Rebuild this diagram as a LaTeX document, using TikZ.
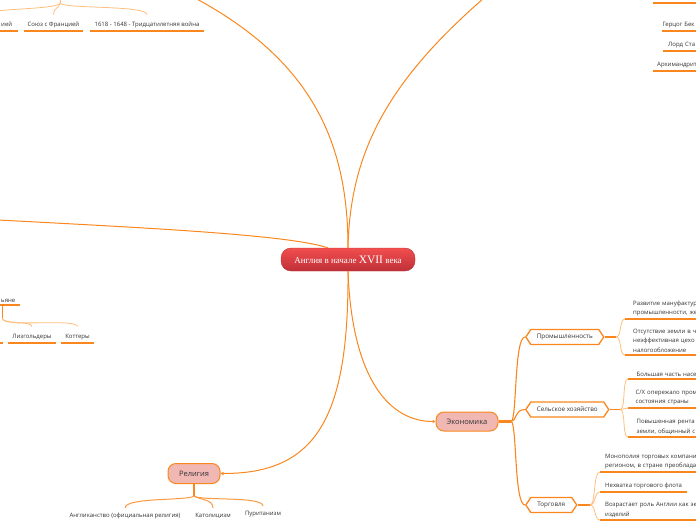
\documentclass[tikz,border=0pt]{standalone}
\usepackage{fontspec}
\setmainfont{Open Sans}
\newfontfamily\titlefont{Liberation Serif}
\usetikzlibrary{shapes.symbols,arrows.meta}
\definecolor{orn}{RGB}{250,135,30}
\definecolor{lorn}{RGB}{255,190,125}
\definecolor{pinkf}{RGB}{241,183,178}
\definecolor{txt}{RGB}{51,51,51}
\definecolor{redtop}{RGB}{242,78,78}
\definecolor{redbot}{RGB}{190,48,56}
\begin{document}
\begin{tikzpicture}[x=1pt,y=-1pt,
  conn/.style={draw=orn,line width=1pt},
  thickconn/.style={draw=orn,line width=2.4pt},
  midconn/.style={draw=orn,line width=1.1pt},
  thinconn/.style={draw=lorn,line width=0.8pt},
  uline/.style={draw=orn,line width=1.6pt},
  leaf/.style={font=\fontsize{6}{9.5}\selectfont,text=txt,align=left,inner ysep=2.5pt},
  tallleaf/.style={leaf,text height=9pt,text depth=2pt,inner xsep=4pt,inner ysep=2.5pt},
  central/.style={rounded corners=10pt,minimum width=134pt,minimum height=23pt,
    top color=redtop,bottom color=redbot,draw=redbot,line width=0.4pt,
    text=white,font=\titlefont\fontsize{9}{10}\selectfont,inner sep=0pt},
  topic/.style={draw=orn,fill=pinkf,line width=1pt,rounded corners=8pt,
    minimum width=62pt,minimum height=19pt,inner sep=0pt,
    font=\fontsize{7.5}{9}\selectfont,text=txt},
  hexa/.style={shape=signal,signal to=west and east,signal pointer angle=112,
    draw=orn,line width=1.3pt,fill=white,minimum height=15pt,inner xsep=2pt,inner ysep=0pt,
    font=\fontsize{6.3}{8}\selectfont,text=txt},
  tip/.style={-{Triangle[length=3pt,width=3pt]}}
]
\useasboundingbox (0,0) rectangle (696,520);
\clip (0,0) rectangle (696,520);

% central node
\node[central] (c) at (348,259.5) {Англия в начале {\fontsize{11.5}{12}\selectfont XVII} века};

% off-canvas ends of main branches
\coordinate (ul) at (195,-2);
\coordinate (ur) at (484,-2);
\coordinate (lf) at (-2,220);

\draw[conn] (c.north) .. controls (348,140) and (310,60) .. (ul);
\draw[conn] (c.north) .. controls (350,150) and (390,80) .. (ur);
\draw[conn] (c.150) .. controls (290,235) and (150,228) .. (lf);

% topics
\node[topic] (ek) at (467,421.5) {Экономика};
\node[topic,minimum width=52pt,minimum height=20pt] (rel) at (194,473.5) {Религия};
\draw[conn,tip] (c.south) .. controls (352,380) and (390,421.5) .. (ek.west);
\draw[conn,tip] (c.south) .. controls (349,420) and (315,473.5) .. (rel.east);

% economy sub-topics
\node[hexa,minimum width=78pt,anchor=west] (pr) at (525,337) {Промышленность};
\node[hexa,minimum width=83pt,anchor=west] (sx) at (525,409.5) {Сельское хозяйство};
\node[hexa,minimum width=51pt,anchor=west] (tg) at (525,505) {Торговля};
\coordinate (ej) at (511,421.5);
\draw[thickconn] (ek.east) -- (ej);
\draw[midconn] (ej) .. controls (517,421.5) and (514,337) .. (pr.west);
\draw[midconn] (ej) .. controls (517,421.5) and (514,409.5) .. (sx.west);
\draw[midconn] (ej) .. controls (517,421.5) and (514,505) .. (tg.west);

% industry leaves
\node[leaf,anchor=south west,inner xsep=8pt,text width=80pt] (p1) at (625,319) {Развитие мануфактур\\промышленности, же};
\node[leaf,anchor=south west,inner xsep=8pt,text width=80pt] (p2) at (625,355) {Отсутствие земли в ч\\неэффективная цехо\\налогообложение};
\coordinate (pj) at (616,337);
\draw[midconn] (pr.east) -- (pj);
\draw[thinconn] (pj) .. controls (622,337) and (619,319) .. (p1.south west);
\draw[thinconn] (pj) .. controls (622,337) and (619,355) .. (p2.south west);

% agriculture leaves
\node[leaf,anchor=south west,inner xsep=8.5pt,text width=80pt] (s1) at (628,379) {Большая часть насе};
\node[leaf,anchor=south west,inner xsep=7.5pt,text width=80pt] (s2) at (628,408) {С/Х опережало пром\\состояния страны};
\node[leaf,anchor=south west,inner xsep=8.5pt,text width=80pt] (s3) at (628,437) {Повышенная рента\\земли, общинный с};
\coordinate (sj) at (620,409.5);
\draw[midconn] (sx.east) -- (sj);
\draw[thinconn] (sj) .. controls (626,409.5) and (622,379) .. (s1.south west);
\draw[thinconn] (sj) -- (s2.south west);
\draw[thinconn] (sj) .. controls (626,409.5) and (622,437) .. (s3.south west);

% trade leaves
\node[leaf,anchor=south west,inner xsep=5pt,text width=110pt] (t1) at (600,472) {Монополия торговых компани\\регионом, в стране преоблада};
\node[leaf,anchor=south west,inner xsep=5pt] (t2) at (600,492) {Нехватка торгового флота};
\node[leaf,anchor=south west,inner xsep=5pt,text width=110pt] (t3) at (600,520) {Возрастает роль Англии как эк\\изделий};
\coordinate (tj) at (590,505);
\draw[midconn] (tg.east) -- (tj);
\draw[thinconn] (tj) .. controls (596,505) and (593,472) .. (t1.south west);
\draw[thinconn] (tj) .. controls (596,505) and (594,492) .. (t2.south west);
\draw[thinconn] (tj) .. controls (596,505) and (594,520) .. (t3.south west);

\foreach \n in {p1,p2,s1,s2,s3,t1,t2,t3}
  \draw[uline] (\n.south west) -- (\n.south east);

% religion leaves
\node[leaf,anchor=north,inner xsep=3pt,inner ysep=5pt] (r1) at (125,508) {Англиканство (официальная религия)};
\node[leaf,anchor=north,inner xsep=3pt,inner ysep=5pt] (r2) at (213,508) {Католицизм};
\node[leaf,anchor=north,inner xsep=3pt,inner ysep=5pt] (r3) at (263,506) {Пуританизм};
\coordinate (rj) at (194,496);
\draw[midconn] (rel.south) -- (rj);
\draw[conn,draw=orn!85] (rj) .. controls (188,501) and (125,497) .. (r1.north);
\draw[conn,draw=orn!85] (rj) .. controls (200,500) and (213,499) .. (r2.north);
\draw[conn,draw=orn!85] (rj) .. controls (200,501) and (263,496) .. (r3.north);

% top-left group
\node[tallleaf,anchor=south west] (sp) at (-3,31) {ией};
\node[tallleaf,anchor=south] (sf) at (53.5,31) {Союз с Францией};
\node[tallleaf,anchor=south] (tw) at (147,31) {1618 - 1648 - Тридцатилетняя война};
\coordinate (tlj) at (60,3);
\coordinate (tlt) at (60,-3);
\coordinate (tll) at (-20,13);
\draw[thinconn] (tlt) -- (tlj);
\draw[thinconn] (tlj) .. controls (58,9) and (10,8) .. (tll);
\draw[thinconn] (tlj) .. controls (60,8) and (53,8) .. (sf.north);
\draw[thinconn] (tlj) .. controls (62,9) and (147,5) .. (tw.north);
\foreach \n in {sf,tw}
  \draw[uline] (\n.south west) -- (\n.south east);
\coordinate (spl) at (-5,31);
\coordinate (spr) at (18,31);
\draw[uline] (spl) -- (spr);

% top-right group
\coordinate (trl) at (653,3);
\coordinate (trr) at (700,3);
\draw[uline] (trl) -- (trr);
\node[leaf,anchor=south west,inner xsep=0.5pt,text width=60pt] (h1) at (662,31) {Герцог Бек};
\node[leaf,anchor=south west,inner xsep=5pt,text width=60pt] (h2) at (663,51) {Лорд Ста};
\node[leaf,anchor=south west,inner xsep=4pt,text width=60pt] (h3) at (653,71) {Архимандрит};
\foreach \n in {h1,h2,h3}
  \draw[uline] (\n.south west) -- (\n.south east);

% left-middle group
\node[leaf,anchor=south west,inner xsep=1pt] (kr) at (0,305) {ьяне};
\coordinate (krl) at (-10,305);
\coordinate (krr) at (20,305);
\draw[uline] (krl) -- (krr);
\coordinate (kb) at (2,305);
\coordinate (kj) at (2,318);
\node[tallleaf,anchor=south] (li) at (32,343) {Лизгольдеры};
\node[tallleaf,anchor=south] (ko) at (77.5,343) {Коттеры};
\draw[conn] (kb) -- (kj);
\draw[thinconn] (kj) .. controls (3,326) and (32,320) .. (li.north);
\draw[thinconn] (kj) .. controls (4,328) and (77,318) .. (ko.north);
\foreach \n in {li,ko}
  \draw[uline] (\n.south west) -- (\n.south east);
\coordinate (cl1) at (-10,343);
\coordinate (cl2) at (3,343);
\draw[uline] (cl1) -- (cl2);
\end{tikzpicture}
\end{document}
